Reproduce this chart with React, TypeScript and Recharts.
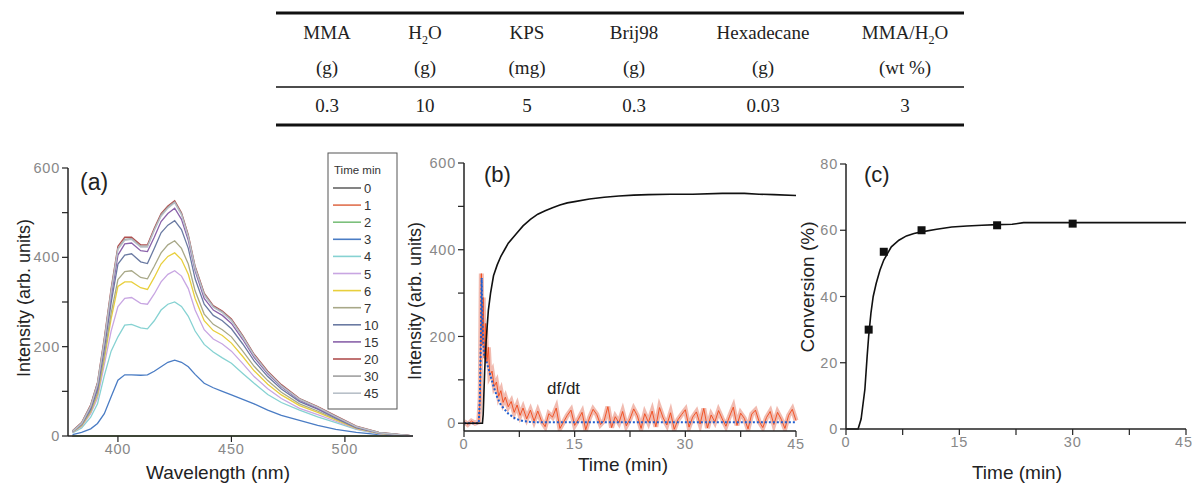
import { Line, LineChart, XAxis, YAxis } from "recharts";

// ---- table ----
const tableHeads = ["MMA", "H2O", "KPS", "Brij98", "Hexadecane", "MMA/H2O"];
const tableUnits = ["(g)", "(g)", "(mg)", "(g)", "(g)", "(wt %)"];
const tableValues = ["0.3", "10", "5", "0.3", "0.03", "3"];

// ---- (a) emission spectra ----
const wavelengths = [380, 384, 388, 391, 394, 397, 400, 403, 406, 410, 413, 416, 419, 422, 425, 428, 431, 434, 438, 442, 446, 450, 455, 460, 466, 472, 480, 488, 496, 505, 515, 530];
const spectrumTimes = ["0", "1", "2", "3", "4", "5", "6", "7", "10", "15", "20", "30", "45"];
const spec0 = [0, 0, 0, 0, 0, 0, 0, 0, 0, 0, 0, 0, 0, 0, 0, 0, 0, 0, 0, 0, 0, 0, 0, 0, 0, 0, 0, 0, 0, 0, 0, 0];
const spec1 = [0, 0, 0, 0, 0, 0, 0, 0, 0, 0, 0, 0, 0, 0, 0, 0, 0, 0, 0, 0, 0, 0, 0, 0, 0, 0, 0, 0, 0, 0, 0, 0];
const spec2 = [0, 0, 0, 0, 0, 0, 0, 0, 0, 0, 0, 0, 0, 0, 0, 0, 0, 0, 0, 0, 0, 0, 0, 0, 0, 0, 0, 0, 0, 0, 0, 0];
const spec3 = [3, 8, 16, 28, 50, 88, 125, 137, 137, 136, 137, 145, 155, 165, 170, 165, 155, 138, 118, 108, 100, 92, 82, 72, 58, 46, 35, 24, 15, 8, 3, 0];
const spec4 = [7, 18, 42, 72, 135, 190, 222, 248, 250, 242, 240, 258, 282, 295, 300, 290, 268, 235, 205, 188, 175, 163, 140, 118, 93, 75, 58, 43, 30, 15, 5, 0];
const spec5 = [8, 21, 50, 85, 160, 235, 290, 308, 310, 297, 295, 318, 345, 362, 370, 358, 330, 282, 238, 217, 206, 190, 162, 133, 106, 84, 62, 48, 33, 16, 5, 0];
const spec6 = [9, 23, 54, 92, 172, 262, 335, 345, 345, 332, 328, 355, 385, 402, 410, 395, 362, 308, 258, 236, 225, 208, 178, 146, 116, 92, 68, 53, 36, 17, 6, 0];
const spec7 = [9, 24, 56, 96, 180, 275, 350, 368, 370, 355, 352, 380, 410, 428, 437, 420, 385, 325, 273, 250, 238, 222, 190, 156, 124, 98, 72, 56, 38, 18, 6, 0];
const spec10 = [10, 26, 60, 104, 195, 298, 385, 405, 408, 390, 386, 420, 455, 472, 482, 462, 420, 352, 295, 270, 258, 240, 206, 168, 133, 105, 77, 60, 40, 19, 7, 0];
const spec15 = [10, 27, 64, 110, 205, 312, 405, 430, 432, 415, 413, 445, 480, 498, 510, 485, 438, 370, 308, 282, 270, 252, 216, 176, 139, 110, 80, 62, 42, 20, 7, 0];
const spec20 = [12, 30, 70, 120, 220, 330, 425, 445, 445, 428, 428, 465, 498, 515, 527, 500, 450, 380, 320, 292, 280, 262, 225, 183, 145, 115, 84, 66, 45, 22, 8, 0];
const spec30 = [11, 29, 68, 118, 215, 325, 420, 440, 442, 425, 425, 462, 495, 512, 524, 498, 448, 378, 318, 290, 278, 260, 223, 181, 143, 113, 83, 65, 44, 21, 8, 0];
const spec45 = [10, 28, 66, 115, 212, 322, 418, 438, 440, 423, 423, 460, 492, 510, 522, 495, 445, 375, 315, 288, 276, 258, 221, 180, 142, 112, 82, 64, 43, 21, 7, 0];
const spectra = [spec0, spec1, spec2, spec3, spec4, spec5, spec6, spec7, spec10, spec15, spec20, spec30, spec45];
const spectrumColors = ["#666666", "#e0704e", "#7cc07c", "#4a7cc4", "#86d2d2", "#c8a6e2", "#e8cf3c", "#a8a888", "#6a7aa2", "#8a62aa", "#b05050", "#a0a0a0", "#b8c0c8"];

// ---- (b) kinetics ----
const intensityTimes = [0, 2, 2.5, 2.6, 2.8, 3.0, 3.3, 3.6, 4, 4.5, 5, 5.5, 6, 7, 8, 9, 10, 11, 12, 13, 14, 15, 17, 19, 21, 23, 25, 28, 31, 35, 38, 40, 42, 45];
const intensityValues = [0, 0, 0, 20, 120, 190, 260, 300, 340, 365, 385, 400, 415, 435, 455, 470, 482, 490, 497, 503, 508, 511, 517, 521, 524, 526, 527, 528, 528, 530, 530, 528, 527, 525];
const rateHeadTimes = [0, 0.5, 1, 1.5, 2, 2.2, 2.35, 2.45, 2.6, 2.75, 2.9, 3.1, 3.3, 3.5, 3.8, 4.1, 4.4, 4.7, 5.0, 5.3, 5.6, 6.0, 6.4, 6.8, 7.2, 7.6, 8.0, 8.5, 9.0, 9.5];
const rateHeadValues = [4, -3, 5, 0, 3, 60, 345, 180, 290, 150, 230, 140, 175, 110, 120, 85, 95, 62, 75, 48, 60, 38, 50, 25, 42, 18, 35, 10, 30, 5];
// sampled every 0.5 min from 10 to 45 min
const rateTailValues = [
  28, 5, -8, 22, 14, 35, -12, 3, 18, 30,
  -5, 9, 25, -15, 12, 32, 20, -3, 6, 38,
  -10, 15, 1, 27, -6, 10, 33, 17, -12, 22,
  2, 28, -8, 36, 12, -4, 24, -14, 8, 20,
  31, -9, 14, 26, -2, 34, -11, 19, 3, 29,
  10, -7, 16, 37, -5, 23, 11, -13, 21, 30,
  4, -10, 13, 27, -3, 25, 9, -12, 18, 32, 6,
];
const fitTimes = [0, 2, 2.15, 2.3, 2.4, 2.5, 2.7, 3.0, 3.5, 4, 4.5, 5, 6, 7, 8, 9, 10, 12, 45];
const fitValues = [0, 0, 60, 200, 335, 230, 160, 145, 115, 85, 60, 42, 22, 10, 5, 3, 2, 2, 2];

// ---- (c) conversion ----
const convCurveTimes = [0, 1, 1.6, 2, 2.5, 2.8, 3.0, 3.3, 3.6, 4, 4.5, 5, 5.5, 6, 7, 8, 9, 10, 12, 14, 16, 18, 20, 22, 23.5, 30, 45];
const convCurveValues = [0, 0, 0, 3, 12, 22, 28, 35, 40, 44, 48, 51, 53, 55, 57, 58.3, 59, 59.5, 60.3, 61, 61.3, 61.5, 61.7, 61.8, 62.3, 62.3, 62.3];
const convPointTimes = [3, 5, 10, 20, 30];
const convPointValues = [30, 53.5, 60, 61.5, 62];

const spectrumRows = wavelengths.map((w, i) => {
  const row: Record<string, number> = { w };
  spectrumTimes.forEach((t, k) => {
    row["t" + t] = spectra[k][i];
  });
  return row;
});
const intensityData = intensityTimes.map((t, i) => ({ t, v: intensityValues[i] }));
const rateData = [
  ...rateHeadTimes.map((t, i) => ({ t, v: rateHeadValues[i] })),
  ...rateTailValues.map((v, i) => ({ t: 10 + i * 0.5, v })),
];
const fitData = fitTimes.map((t, i) => ({ t, v: fitValues[i] }));
const convCurve = convCurveTimes.map((t, i) => ({ t, v: convCurveValues[i] }));
const convPoints = convPointTimes.map((t, i) => ({ t, v: convPointValues[i] }));

const sans = "'Liberation Sans', Arial, sans-serif";
const tickStyle = { fill: "#888", fontSize: 14.5, fontFamily: sans, letterSpacing: 0.8 };
const axisLine = { stroke: "#222", strokeWidth: 1.5 };
const tickLine = { stroke: "#222", strokeWidth: 1.2 };
const even = (step: number) => (v: number) => (v % step === 0 ? String(v) : "");

const colX = [327, 425, 527, 634, 763, 905];

function renderHead(h: string) {
  if (!h.includes("H2O")) return h;
  const pre = h.replace("H2O", "");
  return (
    <>
      {pre}H<tspan dy={5} fontSize={12}>2</tspan>
      <tspan dy={-5}>O</tspan>
    </>
  );
}

function Square(props: any) {
  const { cx, cy } = props;
  if (cx == null || cy == null) return null;
  return <rect x={cx - 4} y={cy - 4} width={8} height={8} fill="#111" />;
}

export default function App() {
  return (
    <div style={{ position: "absolute", left: 0, top: 0, width: 1192, height: 483, background: "#fff", fontFamily: sans }}>
      {/* (a) */}
      <div style={{ position: "absolute", left: 0, top: 140 }}>
        <LineChart width={430} height={343} data={spectrumRows} margin={{ top: 28, right: 17, bottom: 0, left: 20 }}>
          <XAxis dataKey="w" type="number" domain={[378, 530]} ticks={[400, 450, 500]} height={47} tick={tickStyle} axisLine={axisLine} tickLine={tickLine} allowDataOverflow />
          <YAxis type="number" domain={[0, 600]} ticks={[0, 100, 200, 300, 400, 500, 600]} tickFormatter={even(200)} width={48} tick={tickStyle} axisLine={axisLine} tickLine={tickLine} />
          {spectrumTimes.map((t, k) => (
            <Line key={t} dataKey={"t" + t} type="linear" stroke={spectrumColors[k]} strokeWidth={1.3} dot={false} isAnimationActive={false} />
          ))}
        </LineChart>
      </div>

      {/* (b) */}
      <div style={{ position: "absolute", left: 420, top: 140 }}>
        <LineChart width={390} height={343} margin={{ top: 23, right: 14, bottom: 0, left: 0 }}>
          <XAxis dataKey="t" type="number" domain={[0, 45]} ticks={[0, 7.5, 15, 22.5, 30, 37.5, 45]} tickFormatter={even(15)} height={52} tick={tickStyle} axisLine={axisLine} tickLine={tickLine} />
          <YAxis dataKey="v" type="number" domain={[-18, 600]} ticks={[0, 100, 200, 300, 400, 500, 600]} tickFormatter={even(200)} width={44} tick={tickStyle} axisLine={axisLine} tickLine={tickLine} allowDataOverflow />
          <Line data={rateData} dataKey="v" type="linear" stroke="#eeaa9c" strokeWidth={5} strokeOpacity={0.8} dot={false} isAnimationActive={false} />
          <Line data={rateData} dataKey="v" type="linear" stroke="#f04a1a" strokeWidth={0.9} dot={false} isAnimationActive={false} />
          <Line data={fitData} dataKey="v" type="linear" stroke="#1f5fd0" strokeWidth={2} strokeDasharray="2 2" dot={false} isAnimationActive={false} />
          <Line data={intensityData} dataKey="v" type="linear" stroke="#111" strokeWidth={1.6} dot={false} isAnimationActive={false} />
        </LineChart>
      </div>

      {/* (c) */}
      <div style={{ position: "absolute", left: 790, top: 140 }}>
        <LineChart width={402} height={343} margin={{ top: 24, right: 6, bottom: 0, left: 0 }}>
          <XAxis dataKey="t" type="number" domain={[0, 45]} ticks={[0, 7.5, 15, 22.5, 30, 37.5, 45]} tickFormatter={even(15)} height={54} tick={tickStyle} axisLine={axisLine} tickLine={tickLine} />
          <YAxis dataKey="v" type="number" domain={[0, 80]} ticks={[0, 20, 40, 60, 80]} width={56} tick={tickStyle} axisLine={axisLine} tickLine={tickLine} />
          <Line data={convCurve} dataKey="v" type="linear" stroke="#111" strokeWidth={1.6} dot={false} isAnimationActive={false} />
          <Line data={convPoints} dataKey="v" stroke="none" dot={<Square />} isAnimationActive={false} />
        </LineChart>
      </div>

      {/* table, titles, legend */}
      <svg width={1192} height={483} style={{ position: "absolute", left: 0, top: 0, pointerEvents: "none" }}>
        <line x1={276} x2={964} y1={13} y2={13} stroke="#111" strokeWidth={3} />
        <line x1={276} x2={964} y1={87} y2={87} stroke="#111" strokeWidth={1.5} />
        <line x1={276} x2={964} y1={125} y2={125} stroke="#111" strokeWidth={3} />
        <g fontFamily="'Liberation Serif', 'Times New Roman', serif" fontSize={19} fill="#222" textAnchor="middle">
          {tableHeads.map((h, i) => (
            <text key={"h" + i} x={colX[i]} y={39}>{renderHead(h)}</text>
          ))}
          {tableUnits.map((u, i) => (
            <text key={"u" + i} x={colX[i]} y={74}>{u}</text>
          ))}
          {tableValues.map((v, i) => (
            <text key={"v" + i} x={colX[i]} y={112}>{v}</text>
          ))}
        </g>

        <g fontFamily={sans} fill="#222">
          <text x={80} y={190} fontSize={23}>(a)</text>
          <text x={484} y={182} fontSize={22}>(b)</text>
          <text x={864} y={182} fontSize={22}>(c)</text>
          <text x={547} y={394} fontSize={17}>df/dt</text>

          <text x={218} y={479} fontSize={19} textAnchor="middle">Wavelength (nm)</text>
          <text x={623} y={471} fontSize={19} textAnchor="middle">Time (min)</text>
          <text x={1017} y={479} fontSize={19} textAnchor="middle">Time (min)</text>
          <text transform="translate(30,298) rotate(-90)" fontSize={18} textAnchor="middle">Intensity (arb. units)</text>
          <text transform="translate(421,301) rotate(-90)" fontSize={18} textAnchor="middle">Intensity (arb. units)</text>
          <text transform="translate(814,287) rotate(-90)" fontSize={19} textAnchor="middle">Conversion (%)</text>
        </g>

        <g fontFamily={sans}>
          <rect x={328} y={153} width={69} height={256} fill="#fff" stroke="#555" strokeWidth={1} />
          <text x={334} y={174} fontSize={11.5} fill="#333">Time min</text>
          {spectrumTimes.map((t, k) => {
            const y = 188 + k * 17.1;
            return (
              <g key={t}>
                <line x1={333} x2={361} y1={y} y2={y} stroke={spectrumColors[k]} strokeWidth={1.6} />
                <text x={364} y={y + 5} fontSize={13} fill="#333">{t}</text>
              </g>
            );
          })}
        </g>
      </svg>
    </div>
  );
}
